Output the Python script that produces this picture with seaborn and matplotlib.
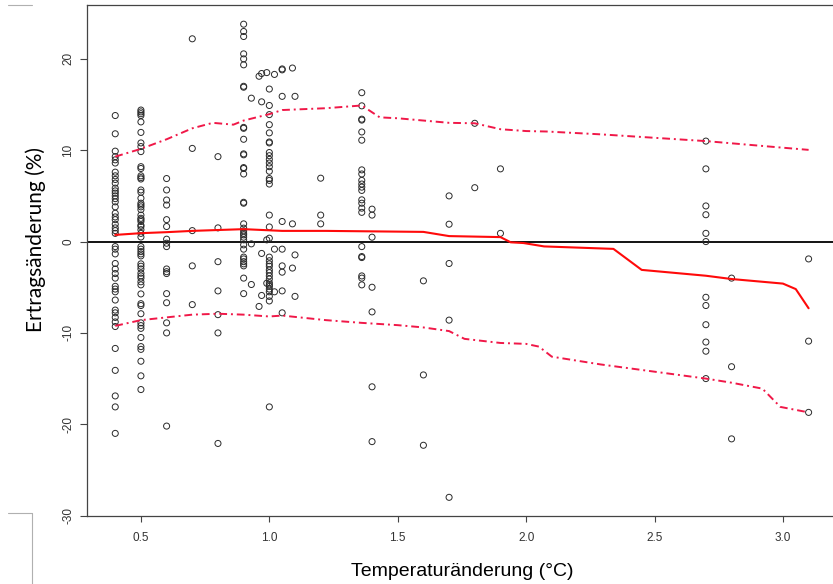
import matplotlib
matplotlib.use("Agg")
import matplotlib.pyplot as plt
from matplotlib.lines import Line2D
import numpy as np
import pandas as pd
import seaborn as sns

# Observed yield change (%) per temperature-change level (°C)
ertrag_040 = [13.8, 11.8, 9.9, 9.3, 8.95, 8.6, 7.6, 7.2, 6.8, 6.4, 5.85, 5.55, 5.3, 5.0, 4.7,
              4.35, 3.8, 3.1, 2.7, 2.4, 1.9, 1.5, 1.2, 0.9, -0.55, -0.83, -1.35, -2.4, -3.0,
              -3.5, -4.0, -4.9, -5.2, -5.5, -6.4, -7.5, -7.8, -8.3, -8.8, -9.3, -11.7, -14.1,
              -16.9, -18.1, -21.0]
ertrag_050 = [14.4, 14.2, 14.0, 13.8, 13.1, 11.95, 10.8, 10.4, 9.85, 8.2, 8.0, 7.2, 7.0, 6.85,
              5.65, 5.4, 4.75, 4.2, 4.0, 3.8, 3.5, 2.9, 2.55, 2.4, 2.2, 1.8, 1.65, 1.3, 0.9, 0.5,
              -0.55, -0.83, -1.1, -1.35, -1.57, -2.44, -2.7, -3.0, -3.46, -3.76, -4.0, -4.4,
              -4.74, -5.73, -6.8, -7.0, -7.9, -8.9, -9.2, -9.5, -10.5, -11.5, -11.8, -13.1,
              -14.7, -16.2]
ertrag_060 = [6.9, 5.65, 4.55, 4.0, 2.4, 1.65, 0.26, -0.18, -0.55, -3.0, -3.3, -3.5, -5.7, -6.7,
              -8.9, -10.0, -20.2]
ertrag_070 = [22.2, 10.2, 1.2, -2.66, -6.9]
ertrag_080 = [9.3, 1.5, -2.2, -5.4, -8.0, -10.0, -22.1]
ertrag_090 = [23.8, 23.0, 22.45, 20.55, 20.0, 19.35, 17.0, 16.9, 12.5, 12.4, 11.2, 9.6, 9.5, 8.1,
              8.0, 7.4, 4.3, 4.2, 1.94, 1.47, 1.17, 0.9, 0.73, 0.48, 0.19, -0.36, -0.83, -1.7,
              -1.9, -2.2, -2.44, -2.66, -4.0, -5.7]
ertrag_093 = [15.7, -0.25, -4.7]
ertrag_096 = [18.1, -7.1]
ertrag_097 = [18.4, 15.3, -1.3, -5.9]
ertrag_099 = [18.5, 0.19, -4.56]
ertrag_100 = [16.7, 14.9, 13.9, 12.8, 11.9, 10.9, 10.8, 9.75, 9.4, 9.0, 8.6, 8.2, 7.7, 6.9, 6.7,
              6.3, 2.9, 1.6, 0.37, -1.7, -2.1, -2.44, -2.7, -3.1, -3.4, -3.76, -4.1, -4.5,
              -4.74, -4.9, -5.2, -5.5, -6.0, -6.5, -18.1]
ertrag_102 = [18.3, -0.83, -5.5]
ertrag_105 = [18.8, 18.9, 15.9, 2.2, -0.83, -2.66, -3.35, -5.4, -7.8]
ertrag_109 = [19.0, 1.94, -2.9]
ertrag_110 = [15.9, -1.46, -6.0]
ertrag_120 = [6.94, 2.9, 1.94]
ertrag_136 = [16.3, 14.86, 13.4, 13.3, 12.0, 11.1, 7.85, 7.4, 6.7, 6.3, 5.96, 5.6, 4.57, 4.2,
              3.66, 3.2, -0.55, -1.64, -1.75, -3.76, -4.0, -4.74]
ertrag_140 = [3.55, 2.9, 0.48, -5.0, -7.7, -15.9, -21.9]
ertrag_160 = [-4.3, -14.6, -22.3]
ertrag_170 = [5.0, 1.9, -2.4, -8.6, -28.0]
ertrag_180 = [12.95, 5.9]
ertrag_190 = [7.96, 0.9]
ertrag_270 = [11.0, 7.96, 3.9, 2.94, 0.9, 0.0, -6.1, -7.0, -9.1, -11.0, -12.0, -15.0]
ertrag_280 = [-4.0, -13.7, -21.6]
ertrag_310 = [-1.9, -10.9, -18.7]

temperatur = [0.40, 0.50, 0.60, 0.70, 0.80, 0.90, 0.93, 0.96, 0.97, 0.99, 1.00, 1.02, 1.05,
              1.09, 1.10, 1.20, 1.36, 1.40, 1.60, 1.70, 1.80, 1.90, 2.70, 2.80, 3.10]
ertrag = [ertrag_040, ertrag_050, ertrag_060, ertrag_070, ertrag_080, ertrag_090, ertrag_093,
          ertrag_096, ertrag_097, ertrag_099, ertrag_100, ertrag_102, ertrag_105, ertrag_109,
          ertrag_110, ertrag_120, ertrag_136, ertrag_140, ertrag_160, ertrag_170, ertrag_180,
          ertrag_190, ertrag_270, ertrag_280, ertrag_310]

# Central trend and upper / lower envelope
median_x = [0.4, 0.5, 0.6, 0.7, 0.9, 1.05, 1.22, 1.6, 1.7, 1.9, 1.94, 1.99, 2.07, 2.34, 2.45,
            2.7, 2.8, 3.0, 3.05, 3.1]
median_y = [0.73, 0.92, 1.03, 1.17, 1.36, 1.17, 1.17, 1.06, 0.6, 0.49, -0.08, -0.16, -0.53,
            -0.8, -3.1, -3.74, -4.1, -4.6, -5.2, -7.3]
upper_x = [0.4, 0.5, 0.6, 0.7, 0.78, 0.86, 0.9, 1.0, 1.05, 1.22, 1.36, 1.43, 1.5, 1.6, 1.7,
           1.8, 1.9, 2.0, 2.08, 2.29, 2.7, 2.99, 3.1]
upper_y = [9.3, 10.15, 11.2, 12.4, 13.0, 12.8, 13.25, 13.95, 14.4, 14.6, 14.9, 13.6, 13.5,
           13.25, 13.0, 12.95, 12.3, 12.1, 12.05, 11.74, 11.0, 10.3, 10.04]
lower_x = [0.4, 0.5, 0.6, 0.7, 0.8, 0.9, 1.0, 1.05, 1.22, 1.36, 1.5, 1.6, 1.7, 1.76, 1.9, 2.0,
           2.05, 2.1, 2.29, 2.7, 2.8, 2.92, 2.99, 3.1]
lower_y = [-9.23, -8.6, -8.3, -8.0, -7.9, -8.0, -8.2, -8.1, -8.6, -8.9, -9.15, -9.4, -9.8,
           -10.65, -11.1, -11.2, -11.5, -12.6, -13.45, -15.0, -15.45, -16.1, -18.1, -18.7]

x_ticks = [0.5, 1.0, 1.5, 2.0, 2.5, 3.0]
x_tick_labels = ["0.5", "1.0", "1.5", "2.0", "2.5", "3.0"]
y_ticks = [-30, -20, -10, 0, 10, 20]
y_tick_labels = ["-30", "-20", "-10", "0", "10", "20"]

punkte = pd.DataFrame({
    "temperatur": np.concatenate([[t] * len(v) for t, v in zip(temperatur, ertrag)]),
    "ertrag": np.concatenate(ertrag),
})

sns.set_theme(style="ticks")
plt.rcParams["font.family"] = ["Liberation Sans", "DejaVu Sans"]

W, H = 833, 584
fig = plt.figure(figsize=(W / 100, H / 100), dpi=100)
ax = fig.add_axes([87 / W, 1 - 515.6 / H, (W - 87) / W, (515.6 - 5) / H])

ax.axhline(0, color="black", lw=1.3, zorder=2)

sns.scatterplot(data=punkte, x="temperatur", y="ertrag", ax=ax, marker="o", s=19,
                facecolor="none", edgecolor="#2a2a2a", linewidth=0.7, zorder=3)

dash_red = "#f01848"
sns.lineplot(x=median_x, y=median_y, ax=ax, color="#ff0a0a", lw=1.5, sort=False,
             estimator=None, zorder=4)
sns.lineplot(x=upper_x, y=upper_y, ax=ax, color=dash_red, lw=1.4, sort=False,
             estimator=None, zorder=4)
ax.lines[-1].set_dashes([4, 2, 1, 2])
sns.lineplot(x=lower_x, y=lower_y, ax=ax, color=dash_red, lw=1.4, sort=False,
             estimator=None, zorder=4)
ax.lines[-1].set_dashes([4, 2, 1, 2])

ax.set_xlim(0.29, 3.195)
ax.set_ylim(-30, 25.9)

ax.set_xticks(x_ticks)
ax.set_xticklabels(x_tick_labels)
ax.set_yticks(y_ticks)
ax.set_yticklabels(y_tick_labels, rotation=90, va="center")
ax.tick_params(axis="x", direction="out", length=4.5, width=0.8, color="#444444",
               labelsize=8.5, labelcolor="#333333", pad=7)
ax.tick_params(axis="y", direction="out", length=5, width=0.8, color="#444444",
               labelsize=8.5, labelcolor="#333333", pad=4)

for side in ["left", "bottom", "top"]:
    ax.spines[side].set_color("#444444")
    ax.spines[side].set_linewidth(0.9)
ax.spines["right"].set_visible(False)

ax.set_xlabel("Temperaturänderung (°C)", fontsize=14, color="black", va="center")
ax.xaxis.set_label_coords((462 - 87) / (W - 87), (515.6 - 571) / 510.6)
ax.set_ylabel("Ertragsänderung (%)", fontsize=15, color="black", va="center",
              family=["Lato", "DejaVu Sans"])
ax.yaxis.set_label_coords((36 - 87) / (W - 87), (515.6 - 240) / 510.6)

# Thin frame fragments at the left margin
frame_kw = dict(color="#b0b0b0", lw=0.8, transform=fig.transFigure)
fig.add_artist(Line2D([8 / W, 32 / W], [1 - 5 / H, 1 - 5 / H], **frame_kw))
fig.add_artist(Line2D([8 / W, 32 / W], [1 - 513 / H, 1 - 513 / H], **frame_kw))
fig.add_artist(Line2D([32 / W, 32 / W], [1 - 513 / H, 0], **frame_kw))

fig.savefig("out.png", dpi=100, facecolor="white")
